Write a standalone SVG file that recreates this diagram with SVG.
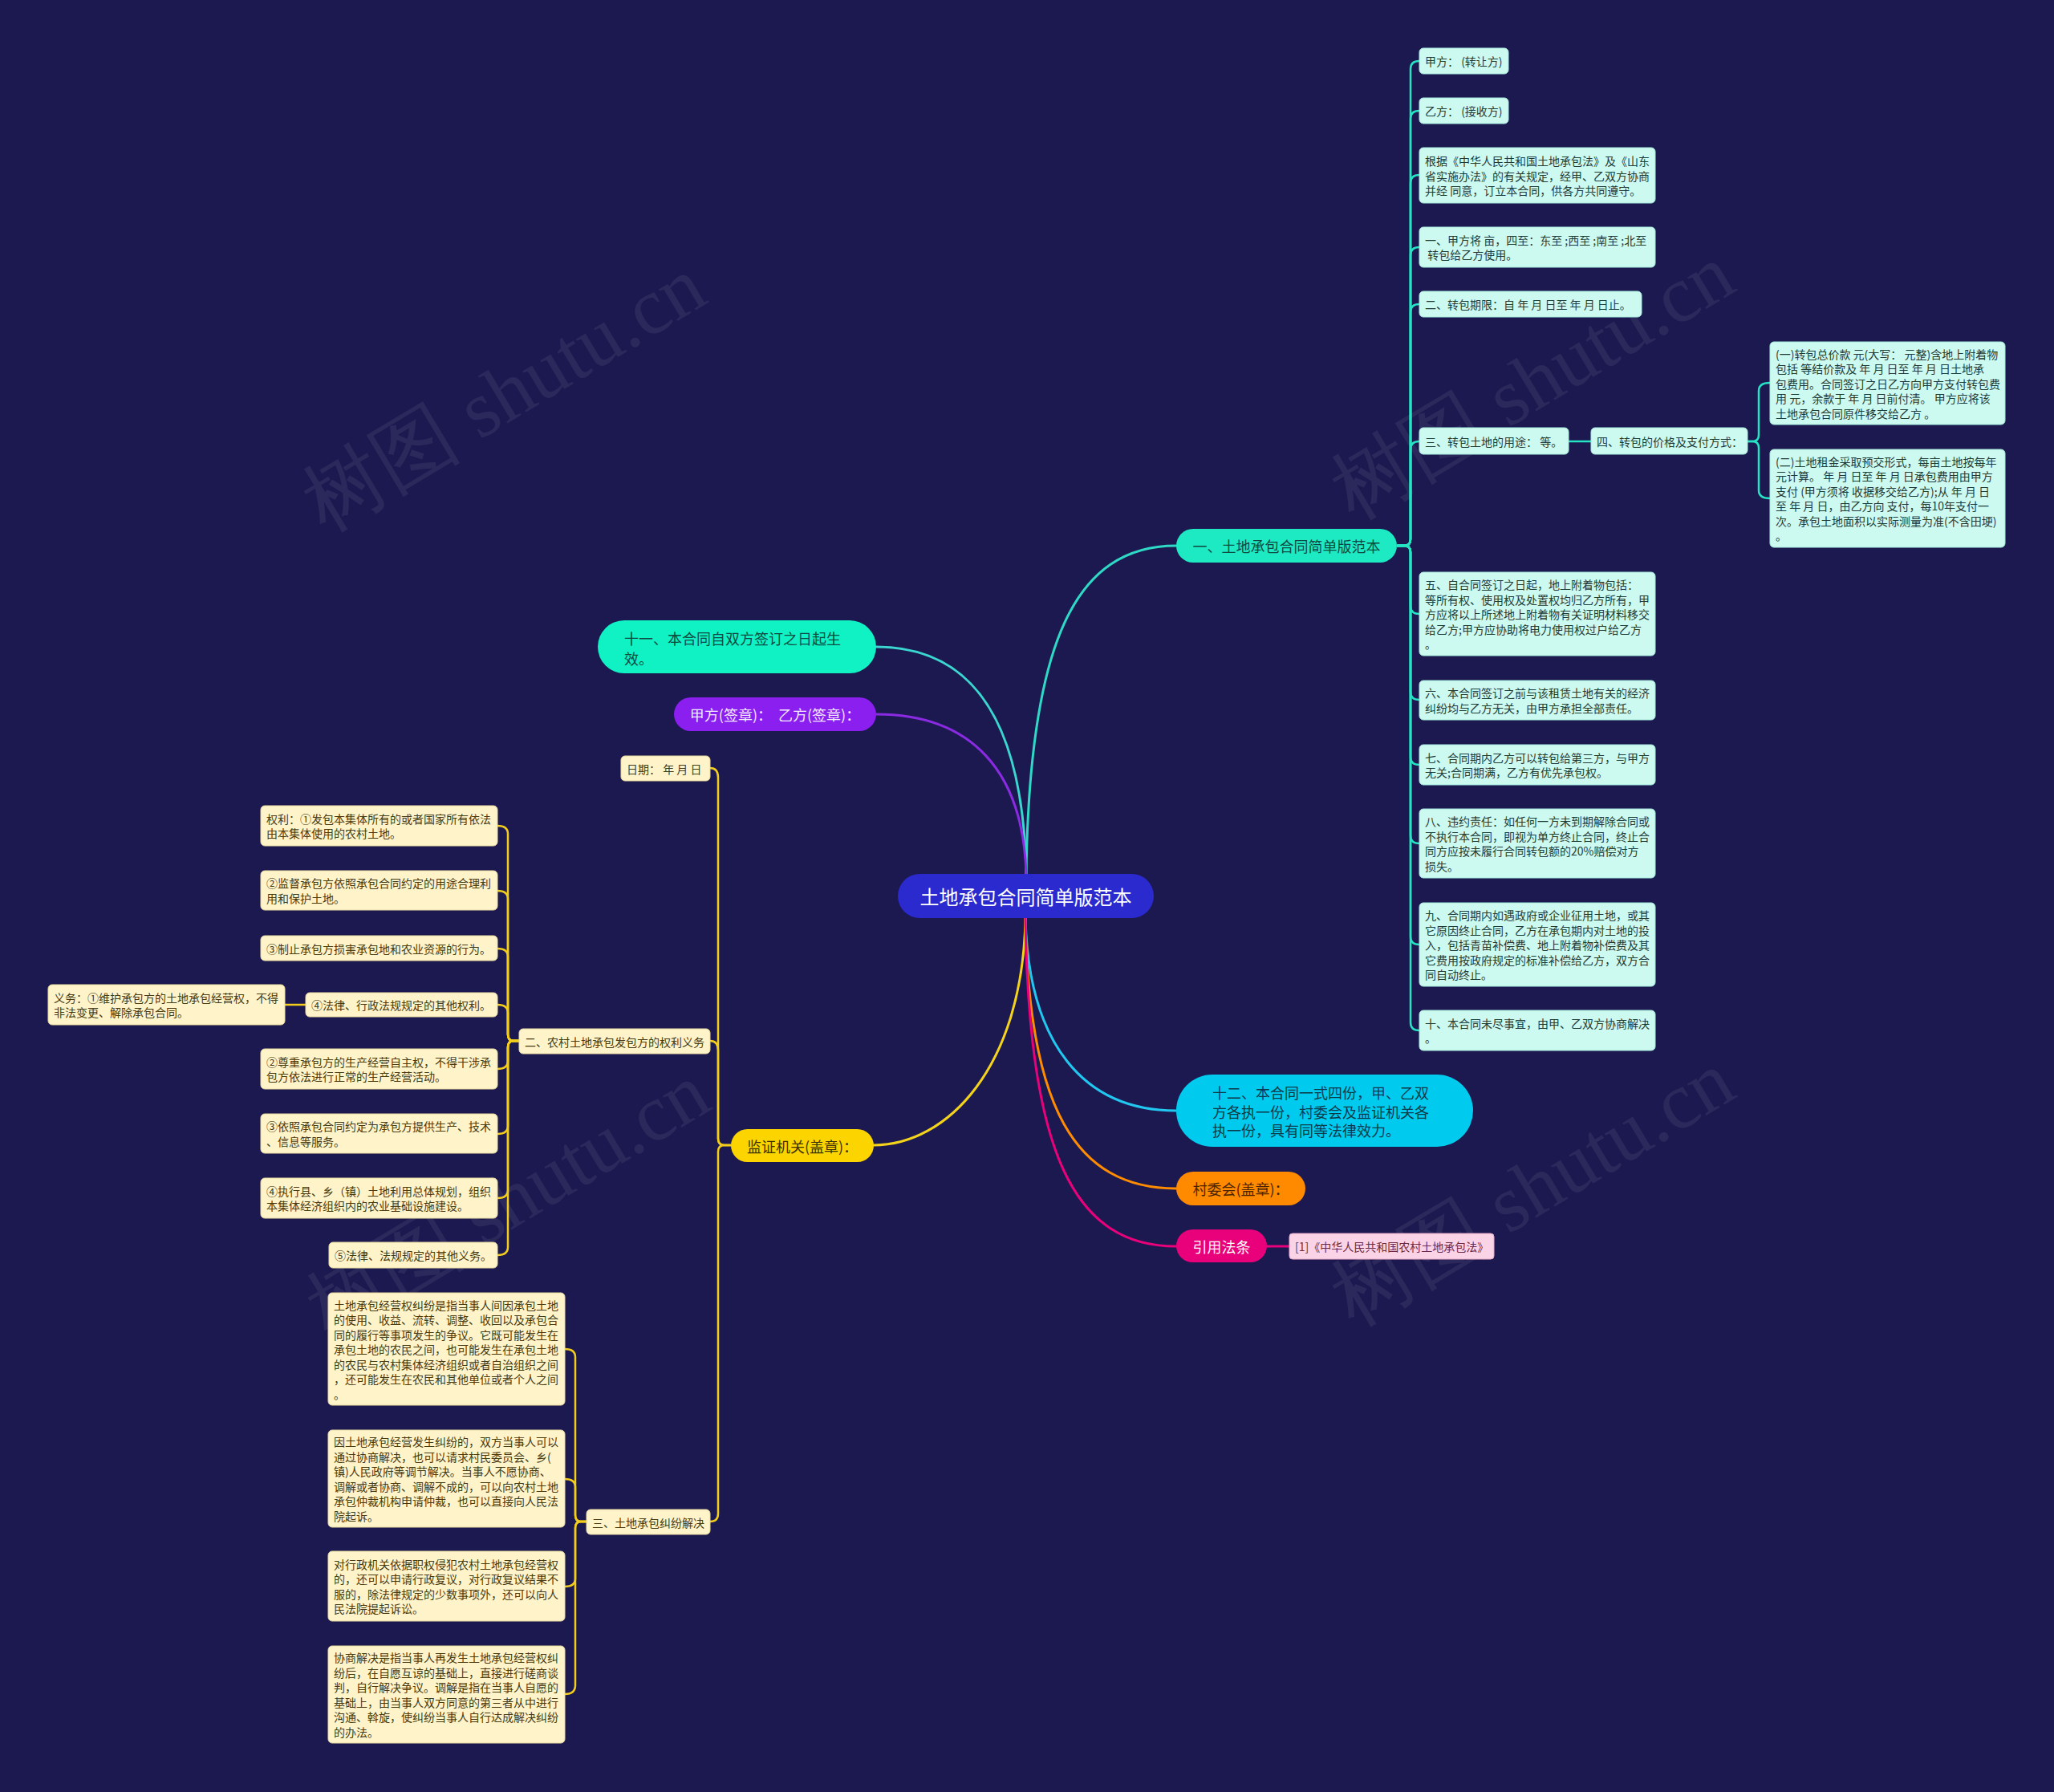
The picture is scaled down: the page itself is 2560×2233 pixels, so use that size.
<svg xmlns="http://www.w3.org/2000/svg" width="2560" height="2233" viewBox="0 0 2560 2233">
<style>
text{font-family:"Noto Sans CJK SC","Noto Sans",sans-serif;white-space:pre}
.tb{fill:#cdfaf0;stroke:#a6e8da;stroke-width:1}
.tt{font-size:14px;fill:#1f3b38;dominant-baseline:central}
.yb{fill:#fff4c9;stroke:#e8d9a0;stroke-width:1}
.yt{font-size:14px;fill:#463a12;dominant-baseline:central}
.mt{font-size:18px;dominant-baseline:central}
.c{fill:none;stroke-width:3;stroke-linecap:round}
.ct{fill:none;stroke:#26e3c3;stroke-width:2.5}
.cy{fill:none;stroke:#f2cd1c;stroke-width:2.5}
.wm{font-family:"Liberation Serif",serif;font-size:100px;fill:#ffffff;fill-opacity:0.07}
</style>
<rect x="0" y="0" width="2560" height="2233" fill="#1b1950"/>

<g id="watermarks">
<text class="wm" x="645" y="520" text-anchor="middle" transform="rotate(-31 645 520)">树图 shutu.cn</text>
<text class="wm" x="1927" y="505" text-anchor="middle" transform="rotate(-31 1927 505)">树图 shutu.cn</text>
<text class="wm" x="650" y="1525" text-anchor="middle" transform="rotate(-31 650 1525)">树图 shutu.cn</text>
<text class="wm" x="1927" y="1510" text-anchor="middle" transform="rotate(-31 1927 1510)">树图 shutu.cn</text>
</g>

<g id="connectors">
<!-- root to main nodes -->
<path class="c" stroke="#2fd9c6" d="M1279 1089 C1283 800 1340 680 1466 680"/>
<path class="c" stroke="#3ad6cf" d="M1279 1089 C1275 880 1200 806 1092 806"/>
<path class="c" stroke="#8a2be2" d="M1279 1089 C1275 960 1210 890 1092 890"/>
<path class="c" stroke="#f4d31c" d="M1278 1144 C1275 1330 1180 1427 1089 1427"/>
<path class="c" stroke="#22c7f0" d="M1278 1144 C1282 1300 1350 1384 1466 1384"/>
<path class="c" stroke="#ff8c00" d="M1278 1144 C1282 1380 1340 1481 1466 1481"/>
<path class="c" stroke="#e8017a" d="M1278 1144 C1282 1440 1340 1553 1466 1553"/>
<path class="c" stroke="#e8017a" d="M1579 1553 H1607"/>

<!-- branch 一 -->
<path class="ct" d="M1741 680 H1750 Q1758 680 1758 672 V86 Q1758 76 1769 76"/>
<path class="ct" d="M1741 680 H1750 Q1758 680 1758 672 V148 Q1758 138 1769 138"/>
<path class="ct" d="M1741 680 H1750 Q1758 680 1758 672 V228 Q1758 218 1769 218"/>
<path class="ct" d="M1741 680 H1750 Q1758 680 1758 672 V318 Q1758 308 1769 308"/>
<path class="ct" d="M1741 680 H1750 Q1758 680 1758 672 V389 Q1758 379 1769 379"/>
<path class="ct" d="M1741 680 H1750 Q1758 680 1758 672 V560 Q1758 550 1769 550"/>
<path class="ct" d="M1741 680 H1750 Q1758 680 1758 688 V755 Q1758 765 1769 765"/>
<path class="ct" d="M1741 680 H1750 Q1758 680 1758 688 V862 Q1758 872 1769 872"/>
<path class="ct" d="M1741 680 H1750 Q1758 680 1758 688 V943 Q1758 953 1769 953"/>
<path class="ct" d="M1741 680 H1750 Q1758 680 1758 688 V1041 Q1758 1051 1769 1051"/>
<path class="ct" d="M1741 680 H1750 Q1758 680 1758 688 V1167 Q1758 1177 1769 1177"/>
<path class="ct" d="M1741 680 H1750 Q1758 680 1758 688 V1274 Q1758 1284 1769 1284"/>
<path class="ct" d="M1955 550 H1983"/>
<path class="ct" d="M2178 550 H2184 Q2192 550 2192 542 V487 Q2192 477 2206 477"/>
<path class="ct" d="M2178 550 H2184 Q2192 550 2192 558 V611 Q2192 621 2206 621"/>

<!-- branch 监证机关 -->
<path class="cy" d="M911 1427 H903 Q895 1427 895 1419 V969 Q895 957 885 957"/>
<path class="cy" d="M911 1427 H903 Q895 1427 895 1419 V1309 Q895 1297 885 1297"/>
<path class="cy" d="M911 1427 H903 Q895 1427 895 1435 V1886 Q895 1896 885 1896"/>

<!-- branch 二 -->
<path class="cy" d="M647 1297 H640 Q633 1297 633 1289 V1039 Q633 1029 620 1029"/>
<path class="cy" d="M647 1297 H640 Q633 1297 633 1289 V1120 Q633 1110 620 1110"/>
<path class="cy" d="M647 1297 H640 Q633 1297 633 1289 V1192 Q633 1182 620 1182"/>
<path class="cy" d="M647 1297 H640 Q633 1297 633 1289 V1262 Q633 1252 620 1252"/>
<path class="cy" d="M647 1297 H640 Q633 1297 633 1305 V1322 Q633 1332 620 1332"/>
<path class="cy" d="M647 1297 H640 Q633 1297 633 1305 V1403 Q633 1413 620 1413"/>
<path class="cy" d="M647 1297 H640 Q633 1297 633 1305 V1483 Q633 1493 620 1493"/>
<path class="cy" d="M647 1297 H640 Q633 1297 633 1305 V1554 Q633 1564 620 1564"/>
<path class="cy" d="M381 1252 H355"/>

<!-- branch 三 -->
<path class="cy" d="M731 1896 H724 Q717 1896 717 1888 V1691 Q717 1681 704 1681"/>
<path class="cy" d="M731 1896 H724 Q717 1896 717 1888 V1853 Q717 1843 704 1843"/>
<path class="cy" d="M731 1896 H724 Q717 1896 717 1904 V1967 Q717 1977 704 1977"/>
<path class="cy" d="M731 1896 H724 Q717 1896 717 1904 V2100 Q717 2111 704 2111"/>
</g>

<g id="root">
<rect x="1119" y="1089" width="319" height="55" rx="27.5" fill="#2a2acf"/>
<text x="1278.5" y="1116.5" text-anchor="middle" dominant-baseline="central" font-size="24" fill="#ffffff">土地承包合同简单版范本</text>
</g>

<g id="n1">
<rect x="1466" y="659" width="275" height="42" rx="21" fill="#1deac2"/>
<text class="mt" x="1603.5" y="680" text-anchor="middle" fill="#0f4a42">一、土地承包合同简单版范本</text>
</g>
<g id="n11">
<rect x="745" y="773" width="347" height="66" rx="33" fill="#10f2c4"/>
<text class="mt" x="778" y="795" fill="#0f4a42">十一、本合同自双方签订之日起生</text>
<text class="mt" x="778" y="820" fill="#0f4a42">效。</text>
</g>
<g id="nsign">
<rect x="840" y="869" width="252" height="42" rx="21" fill="#8a1ff0"/>
<text class="mt" x="966" y="890" text-anchor="middle" fill="#f3e8ff">甲方(签章)：  乙方(签章)：</text>
</g>
<g id="njz">
<rect x="911" y="1407" width="178" height="41" rx="20.5" fill="#fcd500"/>
<text class="mt" x="1000" y="1427.5" text-anchor="middle" fill="#3d3000" font-size="17">监证机关(盖章)：</text>
</g>
<g id="n12">
<rect x="1466" y="1339" width="370" height="90" rx="45" fill="#00cbef"/>
<text class="mt" x="1511" y="1361" fill="#0d3a4a">十二、本合同一式四份，甲、乙双</text>
<text class="mt" x="1511" y="1385" fill="#0d3a4a">方各执一份，村委会及监证机关各</text>
<text class="mt" x="1511" y="1408" fill="#0d3a4a">执一份，具有同等法律效力。</text>
</g>
<g id="ncwh">
<rect x="1466" y="1460" width="161" height="42" rx="21" fill="#ff8a00"/>
<text class="mt" x="1546.5" y="1481" text-anchor="middle" fill="#4a2200">村委会(盖章)：</text>
</g>
<g id="nyy">
<rect x="1466" y="1532" width="113" height="41" rx="20.5" fill="#e8017a"/>
<text class="mt" x="1522.5" y="1552.5" text-anchor="middle" fill="#ffffff">引用法条</text>
</g>
<g id="nlaw">
<rect x="1607" y="1537" width="255" height="32" rx="4" fill="#fbd3e6" stroke="#e9a9c6"/>
<text x="1614" y="1553" font-size="14" dominant-baseline="central" fill="#6b2a48">[1]《中华人民共和国农村土地承包法》</text>
</g>

<!-- branch 一 children -->
<g id="r1"><rect class="tb" x="1769" y="60" width="111" height="32" rx="5"/>
<text class="tt" x="1776" y="76">甲方： (转让方)</text></g>
<g id="r2"><rect class="tb" x="1769" y="122" width="111" height="32" rx="5"/>
<text class="tt" x="1776" y="138">乙方： (接收方)</text></g>
<g id="r3"><rect class="tb" x="1769" y="184" width="294" height="69" rx="5"/>
<text class="tt" x="1776" y="200">根据《中华人民共和国土地承包法》及《山东</text>
<text class="tt" x="1776" y="218.5">省实施办法》的有关规定，经甲、乙双方协商</text>
<text class="tt" x="1776" y="237">并经 同意，订立本合同，供各方共同遵守。</text></g>
<g id="r4"><rect class="tb" x="1769" y="283" width="294" height="50" rx="5"/>
<text class="tt" x="1776" y="298.75">一、甲方将 亩，四至：东至 ;西至 ;南至 ;北至</text>
<text class="tt" x="1776" y="317.25"> 转包给乙方使用。</text></g>
<g id="r5"><rect class="tb" x="1769" y="363" width="277" height="32" rx="5"/>
<text class="tt" x="1776" y="379">二、转包期限：自 年 月 日至 年 月 日止。</text></g>
<g id="r6"><rect class="tb" x="1769" y="533" width="186" height="33" rx="5"/>
<text class="tt" x="1776" y="549.5">三、转包土地的用途： 等。</text></g>
<g id="r7"><rect class="tb" x="1983" y="533" width="195" height="33" rx="5"/>
<text class="tt" x="1990" y="549.5">四、转包的价格及支付方式：</text></g>
<g id="r8"><rect class="tb" x="2206" y="426" width="293" height="103" rx="5"/>
<text class="tt" x="2213" y="440.5">(一)转包总价款 元(大写： 元整)含地上附着物</text>
<text class="tt" x="2213" y="459">包括 等结价款及 年 月 日至 年 月 日土地承</text>
<text class="tt" x="2213" y="477.5">包费用。合同签订之日乙方向甲方支付转包费</text>
<text class="tt" x="2213" y="496">用 元，余款于 年 月 日前付清。 甲方应将该</text>
<text class="tt" x="2213" y="514.5">土地承包合同原件移交给乙方 。</text></g>
<g id="r9"><rect class="tb" x="2206" y="560" width="293" height="122" rx="5"/>
<text class="tt" x="2213" y="574.75">(二)土地租金采取预交形式，每亩土地按每年</text>
<text class="tt" x="2213" y="593.25">元计算。 年 月 日至 年 月 日承包费用由甲方</text>
<text class="tt" x="2213" y="611.75">支付 (甲方须将 收据移交给乙方);从 年 月 日</text>
<text class="tt" x="2213" y="630.25">至 年 月 日，由乙方向 支付，每10年支付一</text>
<text class="tt" x="2213" y="648.75">次。承包土地面积以实际测量为准(不含田埂)</text>
<text class="tt" x="2213" y="667.25">。</text></g>
<g id="r10"><rect class="tb" x="1769" y="713" width="294" height="104" rx="5"/>
<text class="tt" x="1776" y="728">五、自合同签订之日起，地上附着物包括：</text>
<text class="tt" x="1776" y="746.5">等所有权、使用权及处置权均归乙方所有，甲</text>
<text class="tt" x="1776" y="765">方应将以上所述地上附着物有关证明材料移交</text>
<text class="tt" x="1776" y="783.5">给乙方;甲方应协助将电力使用权过户给乙方</text>
<text class="tt" x="1776" y="802">。</text></g>
<g id="r11"><rect class="tb" x="1769" y="848" width="294" height="49" rx="5"/>
<text class="tt" x="1776" y="863.25">六、本合同签订之前与该租赁土地有关的经济</text>
<text class="tt" x="1776" y="881.75">纠纷均与乙方无关，由甲方承担全部责任。</text></g>
<g id="r12"><rect class="tb" x="1769" y="928" width="294" height="50" rx="5"/>
<text class="tt" x="1776" y="943.75">七、合同期内乙方可以转包给第三方，与甲方</text>
<text class="tt" x="1776" y="962.25">无关;合同期满，乙方有优先承包权。</text></g>
<g id="r13"><rect class="tb" x="1769" y="1008" width="294" height="86" rx="5"/>
<text class="tt" x="1776" y="1023.25">八、违约责任：如任何一方未到期解除合同或</text>
<text class="tt" x="1776" y="1041.75">不执行本合同，即视为单方终止合同，终止合</text>
<text class="tt" x="1776" y="1060.25">同方应按未履行合同转包额的20%赔偿对方</text>
<text class="tt" x="1776" y="1078.75">损失。</text></g>
<g id="r14"><rect class="tb" x="1769" y="1125" width="294" height="104" rx="5"/>
<text class="tt" x="1776" y="1140">九、合同期内如遇政府或企业征用土地，或其</text>
<text class="tt" x="1776" y="1158.5">它原因终止合同，乙方在承包期内对土地的投</text>
<text class="tt" x="1776" y="1177">入，包括青苗补偿费、地上附着物补偿费及其</text>
<text class="tt" x="1776" y="1195.5">它费用按政府规定的标准补偿给乙方，双方合</text>
<text class="tt" x="1776" y="1214">同自动终止。</text></g>
<g id="r15"><rect class="tb" x="1769" y="1259" width="294" height="50" rx="5"/>
<text class="tt" x="1776" y="1274.75">十、本合同未尽事宜，由甲、乙双方协商解决</text>
<text class="tt" x="1776" y="1293.25">。</text></g>

<!-- branch 监证机关 children -->
<g id="l1"><rect class="yb" x="774" y="942" width="111" height="31" rx="5"/>
<text class="yt" x="781" y="957.5">日期： 年 月 日</text></g>
<g id="l2"><rect class="yb" x="647" y="1282" width="238" height="31" rx="5"/>
<text class="yt" x="654" y="1297.5">二、农村土地承包发包方的权利义务</text></g>
<g id="l3"><rect class="yb" x="325" y="1004" width="295" height="50" rx="5"/>
<text class="yt" x="332" y="1019.75">权利：①发包本集体所有的或者国家所有依法</text>
<text class="yt" x="332" y="1038.25">由本集体使用的农村土地。</text></g>
<g id="l4"><rect class="yb" x="325" y="1085" width="295" height="49" rx="5"/>
<text class="yt" x="332" y="1100.25">②监督承包方依照承包合同约定的用途合理利</text>
<text class="yt" x="332" y="1118.75">用和保护土地。</text></g>
<g id="l5"><rect class="yb" x="325" y="1166" width="295" height="31" rx="5"/>
<text class="yt" x="332" y="1181.5">③制止承包方损害承包地和农业资源的行为。</text></g>
<g id="l6"><rect class="yb" x="381" y="1237" width="239" height="30" rx="5"/>
<text class="yt" x="388" y="1252">④法律、行政法规规定的其他权利。</text></g>
<g id="l7"><rect class="yb" x="60" y="1227" width="295" height="50" rx="5"/>
<text class="yt" x="67" y="1242.75">义务：①维护承包方的土地承包经营权，不得</text>
<text class="yt" x="67" y="1261.25">非法变更、解除承包合同。</text></g>
<g id="l8"><rect class="yb" x="325" y="1307" width="295" height="50" rx="5"/>
<text class="yt" x="332" y="1322.75">②尊重承包方的生产经营自主权，不得干涉承</text>
<text class="yt" x="332" y="1341.25">包方依法进行正常的生产经营活动。</text></g>
<g id="l9"><rect class="yb" x="325" y="1388" width="295" height="49" rx="5"/>
<text class="yt" x="332" y="1403.25">③依照承包合同约定为承包方提供生产、技术</text>
<text class="yt" x="332" y="1421.75">、信息等服务。</text></g>
<g id="l10"><rect class="yb" x="325" y="1468" width="295" height="50" rx="5"/>
<text class="yt" x="332" y="1483.75">④执行县、乡（镇）土地利用总体规划，组织</text>
<text class="yt" x="332" y="1502.25">本集体经济组织内的农业基础设施建设。</text></g>
<g id="l11"><rect class="yb" x="410" y="1548" width="210" height="32" rx="5"/>
<text class="yt" x="417" y="1564">⑤法律、法规规定的其他义务。</text></g>
<g id="l12"><rect class="yb" x="731" y="1881" width="154" height="31" rx="5"/>
<text class="yt" x="738" y="1896.5">三、土地承包纠纷解决</text></g>
<g id="l13"><rect class="yb" x="409" y="1611" width="295" height="140" rx="5"/>
<text class="yt" x="416" y="1625.5">土地承包经营权纠纷是指当事人间因承包土地</text>
<text class="yt" x="416" y="1644">的使用、收益、流转、调整、收回以及承包合</text>
<text class="yt" x="416" y="1662.5">同的履行等事项发生的争议。它既可能发生在</text>
<text class="yt" x="416" y="1681">承包土地的农民之间，也可能发生在承包土地</text>
<text class="yt" x="416" y="1699.5">的农民与农村集体经济组织或者自治组织之间</text>
<text class="yt" x="416" y="1718">，还可能发生在农民和其他单位或者个人之间</text>
<text class="yt" x="416" y="1736.5">。</text></g>
<g id="l14"><rect class="yb" x="409" y="1782" width="295" height="121" rx="5"/>
<text class="yt" x="416" y="1796.25">因土地承包经营发生纠纷的，双方当事人可以</text>
<text class="yt" x="416" y="1814.75">通过协商解决，也可以请求村民委员会、乡(</text>
<text class="yt" x="416" y="1833.25">镇)人民政府等调节解决。当事人不愿协商、</text>
<text class="yt" x="416" y="1851.75">调解或者协商、调解不成的，可以向农村土地</text>
<text class="yt" x="416" y="1870.25">承包仲裁机构申请仲裁，也可以直接向人民法</text>
<text class="yt" x="416" y="1888.75">院起诉。</text></g>
<g id="l15"><rect class="yb" x="409" y="1933" width="295" height="87" rx="5"/>
<text class="yt" x="416" y="1948.75">对行政机关依据职权侵犯农村土地承包经营权</text>
<text class="yt" x="416" y="1967.25">的，还可以申请行政复议，对行政复议结果不</text>
<text class="yt" x="416" y="1985.75">服的，除法律规定的少数事项外，还可以向人</text>
<text class="yt" x="416" y="2004.25">民法院提起诉讼。</text></g>
<g id="l16"><rect class="yb" x="409" y="2051" width="295" height="121" rx="5"/>
<text class="yt" x="416" y="2065.25">协商解决是指当事人再发生土地承包经营权纠</text>
<text class="yt" x="416" y="2083.75">纷后，在自愿互谅的基础上，直接进行磋商谈</text>
<text class="yt" x="416" y="2102.25">判，自行解决争议。调解是指在当事人自愿的</text>
<text class="yt" x="416" y="2120.75">基础上，由当事人双方同意的第三者从中进行</text>
<text class="yt" x="416" y="2139.25">沟通、斡旋，使纠纷当事人自行达成解决纠纷</text>
<text class="yt" x="416" y="2157.75">的办法。</text></g>
</svg>
